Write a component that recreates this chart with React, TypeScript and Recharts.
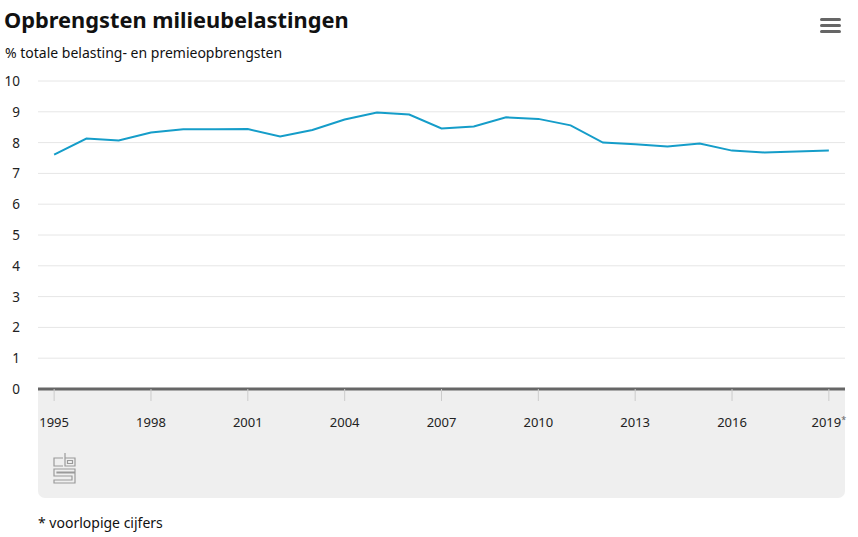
import React from "react"
import { LineChart, Line, XAxis, YAxis, CartesianGrid } from "recharts"

const years = [
  1995, 1996, 1997, 1998, 1999, 2000, 2001, 2002, 2003, 2004, 2005, 2006, 2007,
  2008, 2009, 2010, 2011, 2012, 2013, 2014, 2015, 2016, 2017, 2018, 2019,
]
const shares = [
  7.61, 8.13, 8.07, 8.33, 8.43, 8.43, 8.44, 8.2, 8.41, 8.75, 8.98, 8.91, 8.46,
  8.52, 8.82, 8.77, 8.56, 8.0, 7.95, 7.87, 7.97, 7.74, 7.68, 7.71, 7.74,
]
const xTicks = [1995, 1998, 2001, 2004, 2007, 2010, 2013, 2016, 2019]
const yTicks = [0, 1, 2, 3, 4, 5, 6, 7, 8, 9, 10]
const provisional = [2019]

const data = years.map((year, i) => ({ year, share: shares[i] }))

const font = "'Noto Sans', sans-serif"

function YearTick(props: any) {
  const { x, y, payload } = props
  const star = provisional.includes(payload.value)
  return (
    <text x={x} y={y + 24} textAnchor="middle" fontSize={13} fill="#222" fontFamily={font}>
      {payload.value}
      {star && (
        <tspan fontSize={9} dy={-4} fill="#666">
          *
        </tspan>
      )}
    </text>
  )
}

function ValueTick(props: any) {
  const { y, payload } = props
  return (
    <text x={20} y={y + 5} textAnchor="end" fontSize={13.5} fill="#222" fontFamily={font}>
      {payload.value}
    </text>
  )
}

function CbsLogo() {
  return (
    <svg width={26} height={34} style={{ position: "absolute", left: 52, top: 451 }}>
      <g fill="none" stroke="#9a9a9a" strokeWidth={1.2}>
        <path d="M11 7 h-9 v8 h9" />
        <path d="M13 2 v13 h10 v-8 h-10 M15.5 9.5 h5 v3 h-5 z" />
        <path d="M23 18 h-21 v7 h18 v4 h-18 v3 h21 v-10 h-18 v-1 h18 z" />
      </g>
    </svg>
  )
}

export default function App() {
  return (
    <div
      style={{
        position: "absolute",
        left: 0,
        top: 0,
        width: 858,
        height: 537,
        background: "#fff",
        fontFamily: font,
        color: "#111",
      }}
    >
      <div
        style={{
          position: "absolute",
          left: 38,
          top: 389,
          width: 807,
          height: 109,
          background: "#efefef",
          borderRadius: "0 0 7px 7px",
        }}
      />
      <div style={{ position: "absolute", left: 4, top: 5, fontSize: 21.8, fontWeight: 700 }}>
        Opbrengsten milieubelastingen
      </div>
      <div style={{ position: "absolute", left: 5, top: 43, fontSize: 14 }}>
        % totale belasting- en premieopbrengsten
      </div>
      <div style={{ position: "absolute", left: 820, top: 18 }}>
        {[0, 6, 12].map((t) => (
          <div
            key={t}
            style={{
              position: "absolute",
              top: t,
              width: 21,
              height: 3,
              borderRadius: 2,
              background: "#666",
            }}
          />
        ))}
      </div>
      <CbsLogo />
      <div style={{ position: "absolute", left: 38, top: 513, fontSize: 14 }}>
        * voorlopige cijfers
      </div>
      <LineChart
        width={858}
        height={537}
        data={data}
        margin={{ top: 81, right: 13, bottom: 118, left: 0 }}
        style={{ position: "absolute", left: 0, top: 0 }}
      >
        <CartesianGrid horizontal vertical={false} stroke="#e6e6e6" />
        <XAxis
          dataKey="year"
          type="number"
          domain={[1994.5, 2019.5]}
          ticks={xTicks}
          height={30}
          interval={0}
          axisLine={{ stroke: "#666", strokeWidth: 3 }}
          tickLine={{ stroke: "#ccc" }}
          tickSize={12}
          tick={<YearTick />}
        />
        <YAxis
          domain={[0, 10]}
          ticks={yTicks}
          width={38}
          axisLine={false}
          tickLine={false}
          interval={0}
          tick={<ValueTick />}
        />
        <Line
          type="linear"
          dataKey="share"
          stroke="#159dc9"
          strokeWidth={2}
          dot={false}
          activeDot={false}
          isAnimationActive={false}
        />
      </LineChart>
    </div>
  )
}
